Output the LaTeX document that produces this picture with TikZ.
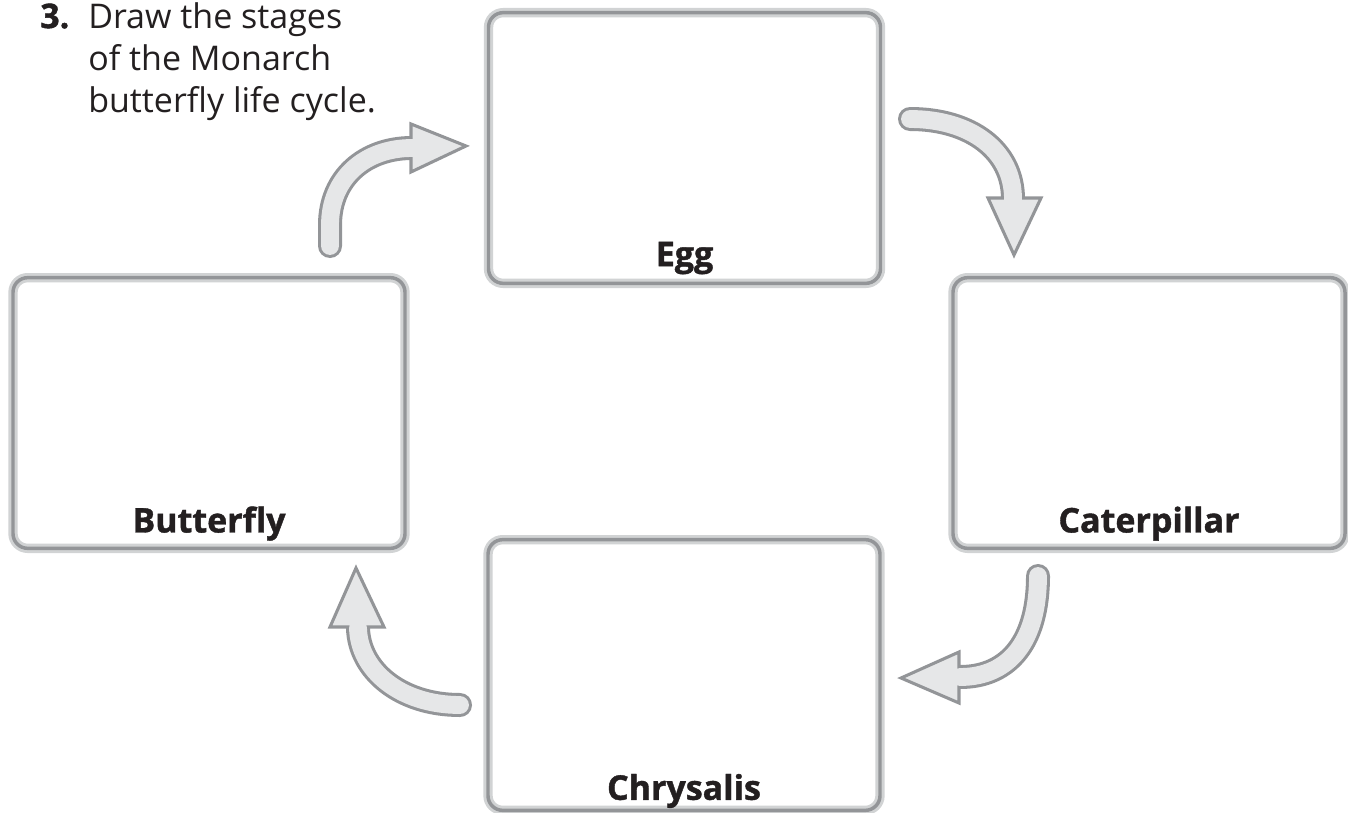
\documentclass[tikz,border=0pt]{standalone}
\usepackage{fontspec}
\setmainfont{Open Sans}[BoldFeatures={FakeBold=1.2}]
\usetikzlibrary{positioning,calc}
\definecolor{ringlight}{HTML}{D1D3D4}
\definecolor{ringdark}{HTML}{939598}
\definecolor{arrowline}{HTML}{939598}
\definecolor{arrowfill}{HTML}{E6E7E8}
\definecolor{labelink}{HTML}{231F20}
\tikzset{
  stagebox/.style={
    draw=ringlight,
    double=ringdark,
    line width=2.2pt,
    double distance=2.6pt,
    rounded corners=11pt,
    fill=white,
    minimum width=294pt,
    minimum height=203pt,
    inner sep=0pt
  },
  stagelabel/.style={
    font=\fontsize{25.5}{30}\selectfont\bfseries,
    text=labelink,
    anchor=base,
    inner sep=0pt
  }
}
% shaft outline, head, then shaft fill on top
\newcommand{\cyclearrow}[2]{%
  \draw[shaftout] #1;
  \filldraw[arrowhead] #2;
  \draw[shaftin] #1;
}

\begin{document}
\begin{tikzpicture}[x=0.75pt, y=-0.75pt]
  \tikzset{
    shaftout/.style={draw=arrowline, line width=18pt, line cap=round},
    shaftin/.style={draw=arrowfill, line width=13.4pt, line cap=round},
    arrowhead/.style={fill=arrowfill, draw=arrowline, line width=2.3pt, line join=miter}
  }
  \useasboundingbox (0,0) rectangle (1348,813);

  % Task text
  \node[anchor=north west, align=left, inner sep=0pt, text=labelink,
        font=\fontsize{25.5}{31.5}\selectfont] (task) at (40,2)
    {\makebox[36pt][l]{\bfseries 3.}Draw the stages\\
     \hspace*{36pt}of the Monarch\\
     \hspace*{36pt}butterfly life cycle.};

  % Stage boxes
  \node[stagebox] (egg) at (684.5,148) {};
  \node[stagebox] (caterpillar) at (1149,413) {};
  \node[stagebox] (chrysalis) at (684,675) {};
  \node[stagebox] (butterfly) at (209,413) {};

  % Stage names
  \node[stagelabel] (egglbl) at ([yshift=14pt]egg.south) {Egg};
  \node[stagelabel] (caterpillarlbl) at ([yshift=13pt]caterpillar.south) {Caterpillar};
  \node[stagelabel] (chrysalislbl) at ([yshift=9pt]chrysalis.south) {Chrysalis};
  \node[stagelabel] (butterflylbl) at ([yshift=13pt]butterfly.south) {Butterfly};

  % Curved arrows between the stages
  \cyclearrow{(330,246) -- (330,225) .. controls (330,178) and (365,148) .. (412,148)}
             {(411,124) -- (466,146) -- (411,172) -- cycle}
  \cyclearrow{(910,119) .. controls (970,119) and (1013,150) .. (1013,199)}
             {(988,198) -- (1014,255) -- (1041,198) -- cycle}
  \cyclearrow{(1038,576) .. controls (1038,640) and (1010,677) .. (960,677)}
             {(959,652) -- (901,678) -- (959,703) -- cycle}
  \cyclearrow{(460,705) .. controls (400,705) and (359,670) .. (358,628)}
             {(330,627) -- (356,568) -- (384,627) -- cycle}
\end{tikzpicture}
\end{document}
